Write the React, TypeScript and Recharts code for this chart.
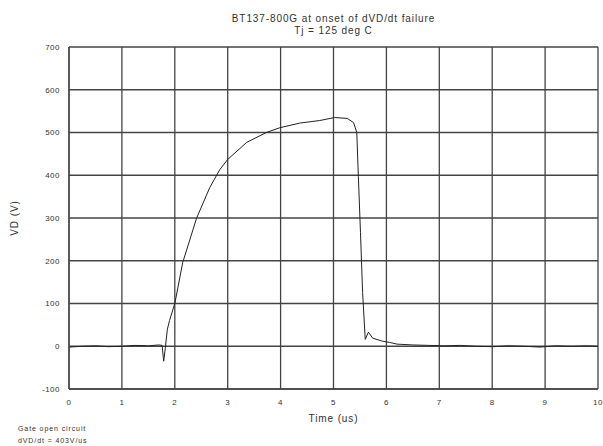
import React from "react";
import { LineChart, Line, XAxis, YAxis, CartesianGrid } from "recharts";

const timeUs = [
  0, 0.25, 0.5, 0.75, 1.0, 1.25, 1.5, 1.7, 1.76, 1.79, 1.82, 1.86, 1.9, 1.95, 2.0,
  2.15, 2.41, 2.66, 2.85, 3.0, 3.36, 3.73, 3.98, 4.36, 4.74, 5.02, 5.26, 5.38, 5.44,
  5.47, 5.51, 5.55, 5.6, 5.66, 5.74, 5.92, 6.06, 6.2, 6.5, 6.8, 7.1, 7.4, 7.7, 8.0,
  8.3, 8.6, 8.9, 9.2, 9.5, 9.8, 10,
];
const vdVolts = [
  -2, 0, 1, -1, 0, 2, 1, 3, 2, -35, -5, 40, 60, 80, 100,
  196, 299, 371, 413, 437, 477, 500, 511, 522, 528, 535, 533, 523, 500,
  397, 266, 126, 16, 33, 19, 12, 9, 5, 3, 2, 1, 2, 0, -1,
  1, 0, -2, 1, 0, 1, 0,
];
const xTicks = [0, 1, 2, 3, 4, 5, 6, 7, 8, 9, 10];
const yTicks = [-100, 0, 100, 200, 300, 400, 500, 600, 700];
const titleLines = ["BT137-800G at onset of dVD/dt failure", "Tj = 125 deg C"];
const noteLines = ["Gate open circuit", "dVD/dt = 403V/us"];

const data = timeUs.map((t, i) => ({ t, v: vdVolts[i] }));

const font = "'Liberation Sans', Arial, sans-serif";

export default function App() {
  return (
    <div style={{ position: "absolute", left: 0, top: 0, width: 603, height: 446, background: "#fff", fontFamily: font }}>
      <div style={{ position: "absolute", left: 69, width: 529, top: 13, textAlign: "center", fontSize: 10, letterSpacing: 0.9, lineHeight: "12px", color: "#333" }}>
        {titleLines.map((l) => (
          <div key={l}>{l}</div>
        ))}
      </div>
      <div style={{ position: "absolute", left: 18, top: 423, fontSize: 7, letterSpacing: 0.9, lineHeight: "12px", color: "#333" }}>
        {noteLines.map((l) => (
          <div key={l}>{l}</div>
        ))}
      </div>
      <LineChart
        width={603}
        height={446}
        data={data}
        margin={{ top: 47, right: 5, bottom: 37, left: 39 }}
      >
        <CartesianGrid stroke="#444" strokeWidth={1.3} />
        <XAxis
          dataKey="t"
          type="number"
          domain={[0, 10]}
          ticks={xTicks}
          tickLine={false}
          axisLine={{ stroke: "#444", strokeWidth: 1.3 }}
          height={20}
          tick={{ fontSize: 8, fill: "#333", fontFamily: font, letterSpacing: 0.5 }}
          tickMargin={4}
          label={{ value: "Time (us)", position: "insideBottom", offset: -13, fontSize: 10, fill: "#333", fontFamily: font, letterSpacing: 0.9 }}
        />
        <YAxis
          type="number"
          domain={[-100, 700]}
          ticks={yTicks}
          tickLine={false}
          axisLine={{ stroke: "#444", strokeWidth: 1.3 }}
          width={30}
          tick={{ fontSize: 8, fill: "#333", fontFamily: font, letterSpacing: 0.5 }}
          tickMargin={3}
          label={{ value: "VD (V)", angle: -90, position: "insideLeft", offset: -25, fontSize: 10, fill: "#333", fontFamily: font, letterSpacing: 0.9, style: { textAnchor: "middle" } }}
        />
        <Line
          type="linear"
          dataKey="v"
          stroke="#222"
          strokeWidth={1}
          dot={false}
          isAnimationActive={false}
        />
      </LineChart>
    </div>
  );
}
